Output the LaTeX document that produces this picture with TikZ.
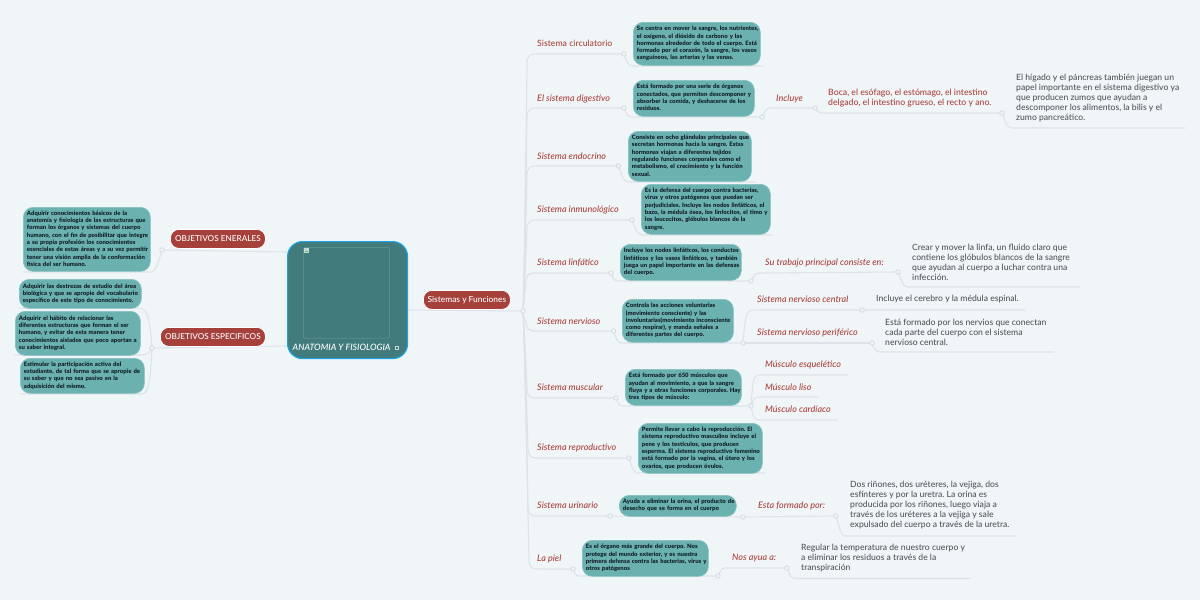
\documentclass[tikz,border=0pt]{standalone}
\usepackage{fontspec}
\setmainfont{Lato}[ItalicFont={Lato Medium Italic},UprightFont={Lato Medium}]
\frenchspacing
\definecolor{bgc}{HTML}{F0F5F8}
\definecolor{linec}{HTML}{DDE3E8}
\definecolor{dotc}{HTML}{D3DADF}
\definecolor{tealc}{HTML}{6AB1B0}
\definecolor{tealb}{HTML}{84C1BF}
\definecolor{darkt}{HTML}{417B7B}
\definecolor{bluec}{HTML}{1BA3E6}
\definecolor{redc}{HTML}{A5403A}
\definecolor{redt}{HTML}{AD423C}
\definecolor{greyt}{HTML}{50565B}
\definecolor{inkc}{HTML}{14232B}
\pgfdeclarelayer{backdrop}
\pgfdeclarelayer{conns}
\pgfsetlayers{backdrop,conns,main}
\tikzset{
  x=1pt,y=-1pt,
  conn/.style={draw=linec,line width=1.1pt,line cap=round},
  dotn/.style={circle,draw=dotc,fill=bgc,line width=.8pt,minimum size=4.5pt,inner sep=0pt},
  tbox/.style={draw=tealb,fill=tealc,line width=.7pt,rounded corners=10pt,anchor=north west,
    inner xsep=3.6pt,inner ysep=0pt,align=left,text=inkc,font=\bfseries\fontsize{5.95}{7.3}\selectfont},
  pill/.style={draw=white,fill=redc,line width=.8pt,rounded corners=8.5pt,text=white,inner sep=0pt,
    anchor=north west,font=\fontsize{8.2}{10}\selectfont},
  lab/.style={anchor=west,inner sep=0pt,text=redt,yshift=-.5pt,font=\itshape\fontsize{9}{10}\selectfont},
  labu/.style={anchor=west,inner sep=0pt,text=redt,yshift=-.5pt,font=\fontsize{8.7}{10}\selectfont},
  redb/.style={anchor=west,inner sep=0pt,align=left,text=redt,font=\fontsize{8.7}{10}\selectfont},
  grey/.style={anchor=west,inner sep=0pt,align=left,text=greyt,font=\fontsize{8.6}{10}\selectfont},
}
\newcommand{\tb}[7]{\node[tbox,text width=#3-7.2pt,minimum height=#4] (#1) at (#2) {\rlap{\begin{tabular}{@{}l@{}}#5\end{tabular}}};}
\newcommand{\elbow}[4][+(3,8)]{\draw[conn] (#2.center) .. controls #1 and +(-5,0) .. (#3) -- (#4);}
\newcommand{\trup}[3]{\draw[conn] (#1.center) .. controls +(1,-12) and +(0,5) .. ([shift={(-8,8)}]#2) .. controls +(0,-5) and +(-5,0) .. (#2) -- (#3.center);}
\newcommand{\trdn}[3]{\draw[conn] (#1.center) .. controls +(1,12) and +(0,-5) .. ([shift={(-8,-8)}]#2) .. controls +(0,5) and +(-5,0) .. (#2) -- (#3.center);}
\begin{document}
\begin{tikzpicture}
\begin{pgfonlayer}{backdrop}
\fill[bgc] (0,0) rectangle (1200,600);
\end{pgfonlayer}
\useasboundingbox (0,0) rectangle (1200,600);

% centre
\node[draw=bluec,fill=darkt,line width=1.2pt,rounded corners=15pt,minimum width=120pt,minimum height=117pt,inner sep=0pt,anchor=north west] (central) at (287,241) {};
\draw[draw=white,draw opacity=.22,line width=.5pt,rounded corners=1pt] (303.5,247.5) rectangle (389.5,338);
\fill[white!70!darkt] (304,248) rectangle (308.5,252.5);
\fill[tealc!60!green] (305,250.5) rectangle (307.5,252);
\node[anchor=west,inner sep=0pt,text=white,font=\itshape\fontsize{8.8}{10}\selectfont] (ctitle) at (292.5,347.5) {ANATOMIA Y FISIOLOGIA};
\draw[white!70!darkt,line width=.4pt] (395.5,346) rectangle (398.5,349);

% red pills
\node[pill,minimum width=95pt,minimum height=19pt] (obe) at (170,229) {OBJETIVOS ENERALES};
\node[pill,minimum width=105pt,minimum height=19pt] (obs) at (160,327) {OBJETIVOS ESPECIFICOS};
\node[pill,minimum width=87pt,minimum height=19pt] (sf) at (423,290) {\fontsize{8.4}{10}\selectfont Sistemas y Funciones};

% left boxes
\tb{l1}{23,207}{127pt}{64pt}{Adquirir conocimientos básicos de la\\anatomía y fisiología de las estructuras que\\forman los órganos y sistemas del cuerpo\\humano, con el fin de posibilitar que integre\\a su propia profesión los conocimientos\\esenciales de estas áreas y a su vez permitir\\tener una visión amplia de la conformación\\física del ser humano.}{}{}
\tb{l2}{19,279}{122pt}{29pt}{Adquirir las destrezas de estudio del área\\biológica y que se apropie del vocabulario\\específico de este tipo de conocimiento.}{}{}
\tb{l3}{15,311}{125pt}{44pt}{Adquirir el hábito de relacionar las\\diferentes estructuras que forman el ser\\humano, y evitar de esta manera tener\\conocimientos aislados que poco aportan a\\su saber integral.}{}{}
\tb{l4}{20,358}{124pt}{35pt}{Estimular la participación activa del\\estudiante, de tal forma que se apropie de\\su saber y que no sea pasivo en la\\adquisición del mismo.}{}{}

% right boxes
\tb{b1}{633,22}{127pt}{43pt}{Se centra en mover la sangre, los nutrientes,\\el oxígeno, el dióxido de carbono y las\\hormonas alrededor de todo el cuerpo. Está\\formado por el corazón, la sangre, los vasos\\sanguíneos, las arterias y las venas.}{}{}
\tb{b2}{633,80}{121pt}{36pt}{Está formado por una serie de órganos\\conectados, que permiten descomponer y\\absorber la comida, y deshacerse de los\\residuos.}{}{}
\tb{b3}{628,131}{123pt}{50pt}{Consiste en ocho glándulas principales que\\secretan hormonas hacia la sangre. Estas\\hormonas viajan a diferentes tejidos\\regulando funciones corporales como el\\metabolismo, el crecimiento y la función\\sexual.}{}{}
\tb{b4}{641,184}{129pt}{50pt}{Es la defensa del cuerpo contra bacterias,\\virus y otros patógenos que puedan ser\\perjudiciales. Incluye los nodos linfáticos, el\\bazo, la médula ósea, los linfocitos, el timo y\\los leucocitos, glóbulos blancos de la\\sangre.}{}{}
\tb{b5}{620,244}{121pt}{36pt}{Incluye los nodos linfáticos, los conductos\\linfáticos y los vasos linfáticos, y también\\juega un papel importante en las defensas\\del cuerpo.}{}{}
\tb{b6}{622,299}{111pt}{43pt}{Controla las acciones voluntarias\\(movimiento consciente) y las\\involuntarias(movimiento inconsciente\\como respirar), y manda señales a\\diferentes partes del cuerpo.}{}{}
\tb{b7}{625,369}{116pt}{36pt}{Está formado por 650 músculos que\\ayudan al movimiento, a que la sangre\\fluya y a otras funciones corporales. Hay\\tres tipos de músculo:}{}{}
\tb{b8}{638,423}{124pt}{50pt}{Permite llevar a cabo la reproducción. El\\sistema reproductivo masculino incluye el\\pene y los testículos, que producen\\esperma. El sistema reproductivo femenino\\está formado por la vagina, el útero y los\\ovarios, que producen óvulos.}{}{}
\tb{b9}{619,495}{117pt}{21pt}{Ayuda a eliminar la orina, el producto de\\desecho que se forma en el cuerpo}{}{}
\tb{b10}{582,540}{126pt}{36pt}{Es el órgano más grande del cuerpo. Nos\\protege del mundo exterior, y es nuestra\\primera defensa contra las bacterias, virus y\\otros patógenos}{}{}

% labels
\node[labu] (s1) at (537,43) {Sistema circulatorio};
\node[lab] (s2) at (537,98) {El sistema digestivo};
\node[lab] (s3) at (537,156) {Sistema endocrino};
\node[lab] (s4) at (537,209) {Sistema inmunológico};
\node[lab] (s5) at (537,262) {Sistema linfático};
\node[lab] (s6) at (537,321) {Sistema nervioso};
\node[lab] (s7) at (537,387) {Sistema muscular};
\node[lab] (s8) at (537,447) {Sistema reproductivo};
\node[lab] (s9) at (537,505) {Sistema urinario};
\node[lab] (s10) at (537,558) {La piel};
\node[lab] (inc) at (776,98) {Incluye};
\node[redb] (boca) at (828,98) {Boca, el esófago, el estómago, el intestino\\delgado, el intestino grueso, el recto y ano.};
\node[grey] (hig) at (1016,98) {El hígado y el páncreas también juegan un\\papel importante en el sistema digestivo ya\\que producen zumos que ayudan a\\descomponer los alimentos, la bilis y el\\zumo pancreático.};
\node[lab] (sut) at (765,262) {Su trabajo principal consiste en:};
\node[grey] (crear) at (912,262) {Crear y mover la linfa, un fluido claro que\\contiene los glóbulos blancos de la sangre\\que ayudan al cuerpo a luchar contra una\\infección.};
\node[lab] (snc) at (757,299) {Sistema nervioso central};
\node[grey] (ince) at (876,299) {Incluye el cerebro y la médula espinal.};
\node[lab] (snp) at (757,332) {Sistema nervioso periférico};
\node[grey] (esta) at (885,332) {Está formado por los nervios que conectan\\cada parte del cuerpo con el sistema\\nervioso central.};
\node[lab] (m1) at (765,364) {Músculo esquelético};
\node[lab] (m2) at (765,387) {Músculo liso};
\node[lab] (m3) at (765,409) {Músculo cardíaco};
\node[lab] (efp) at (758,505) {Esta formado por:};
\node[grey] (dos) at (850,505) {Dos riñones, dos uréteres, la vejiga, dos\\esfínteres y por la uretra. La orina es\\producida por los riñones, luego viaja a\\través de los uréteres a la vejiga y sale\\expulsado del cuerpo a través de la uretra.};
\node[lab] (nos) at (732,558) {Nos ayua a:};
\node[grey] (reg) at (801,558) {Regular la temperatura de nuestro cuerpo y\\a eliminar los residuos a través de la\\transpiración};

% dots
\foreach \n/\p in {hub/{523,311},hl1/{162,250},hl2/{152,348},
  d1/{624,54},d2/{624,108},d3/{618.5,166},d4/{632,220},d5/{611,273},d6/{613.5,331},d7/{616,398},d8/{629,458},d9/{610,516},d10/{573,569},
  e2/{762,117},e2b/{815,108},e2c/{1002,113},e5/{751,281},e5b/{898,272},e6/{743,343},e6a/{862,310},e6b/{872,343},e7/{751,406},e9/{743,517},e9b/{836,516},e10/{718,576},e10b/{787,568}}
  {\node[dotn] (\n) at (\p) {};}

% free ends and elbows
\foreach \n/\p in {t1/{535,54},t2/{535,108},t3/{535,166},t4/{535,220},t5/{534,273},t6/{534,331},t7/{535,398},t8/{536,458},t9/{536,516},t10/{537,569},
  a1/{633,66},z1/{763,66},a2/{633,117},a3/{628,182},z3/{756,182},a4/{642,235},z4/{772,235},a5/{620,281},a6/{622,343},a7/{624,406},a8/{638,473},z8/{765,473},a10/{582,576},
  b2/{771,108},c2/{824,113},c2e/{1012,128},z2e/{1185,128},
  b5/{760,273},c5/{908,287},z5/{1080,287},
  b6/{753,310},z6a/{1025,310},c6/{881,352},z6b/{1054,352},
  b7a/{760,375},z7a/{848,375},b7b/{760,397},z7b/{818,397},b7c/{760,420},z7c/{837,420},
  c9/{845,536},z9/{1016,536},b10/{726,568},c10/{796,578.5},z10/{970,578.5},
  lm1/{151,272},lz1/{23,272},lm2/{139,308},lz2/{20,308},lm3/{141,355},lz3/{15,355},lm4/{141,394},lz4/{20,394}}
  {\coordinate (\n) at (\p);}

\begin{pgfonlayer}{conns}
\draw[conn] (central.east |- 0,310) -- (hub.center);
\draw[conn] (central.west |- 0,252) -- (hl1.center);
\draw[conn] (central.west |- 0,346) -- (hl2.center);
\trup{hub}{t1}{d1}\trup{hub}{t2}{d2}\trup{hub}{t3}{d3}\trup{hub}{t4}{d4}\trup{hub}{t5}{d5}
\trdn{hub}{t6}{d6}\trdn{hub}{t7}{d7}\trdn{hub}{t8}{d8}\trdn{hub}{t9}{d9}\trdn{hub}{t10}{d10}
\elbow{d1}{a1}{z1}
\elbow{d2}{a2}{e2.center}
\elbow{d3}{a3}{z3}
\elbow{d4}{a4}{z4}
\elbow{d5}{a5}{e5.center}
\elbow{d6}{a6}{e6.center}
\elbow{d7}{a7}{e7.center}
\elbow{d8}{a8}{z8}
\draw[conn] (d9.center) -- (e9.center);
\elbow{d10}{a10}{e10.center}
% digestive
\draw[conn] (e2.center) .. controls +(3,-6) and +(-5,0) .. (b2) -- (e2b.center);
\elbow[+(3,4)]{e2b}{c2}{e2c.center}
\elbow{e2c}{c2e}{z2e}
% lymph
\draw[conn] (e5.center) .. controls +(3,-6) and +(-5,0) .. (b5) -- (e5b.center);
\elbow{e5b}{c5}{z5}
% nervous
\draw[conn] (e6.center) .. controls +(2,-26) and +(-7,0) .. (b6) -- (z6a);
\draw[conn] (e6.center) -- (e6b.center);
\elbow{e6b}{c6}{z6b}
% muscular
\draw[conn] (e7.center) .. controls +(2,-26) and +(-7,0) .. (b7a) -- (z7a);
\draw[conn] (e7.center) .. controls +(2,-7) and +(-5,0) .. (b7b) -- (z7b);
\draw[conn] (e7.center) .. controls +(2,10) and +(-7,0) .. (b7c) -- (z7c);
% urinary
\draw[conn] (e9.center) -- (e9b.center);
\elbow{e9b}{c9}{z9}
% skin
\draw[conn] (e10.center) .. controls +(3,-6) and +(-5,0) .. (b10) -- (e10b.center);
\elbow{e10b}{c10}{z10}
% left
\draw[conn] (hl1.center) .. controls +(-3,10) and +(5,0) .. (lm1) -- (lz1);
\draw[conn] (hl2.center) .. controls +(-2,-30) and +(8,0) .. (lm2) -- (lz2);
\draw[conn] (hl2.center) .. controls +(-3,5) and +(6,0) .. (lm3) -- (lz3);
\draw[conn] (hl2.center) .. controls +(-2,36) and +(8,0) .. (lm4) -- (lz4);
\end{pgfonlayer}
\end{tikzpicture}
\end{document}
